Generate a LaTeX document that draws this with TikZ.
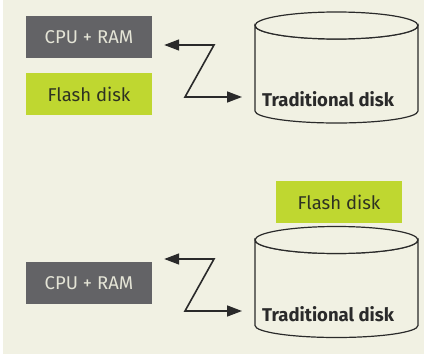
\documentclass[tikz,border=0pt]{standalone}
\usepackage{fontspec}
\setmainfont{Fira Sans}
\usetikzlibrary{positioning,arrows.meta}

\definecolor{cream}{HTML}{F1F1E3}
\definecolor{cpugray}{HTML}{636366}
\definecolor{cputext}{HTML}{E4E4D6}
\definecolor{flashgreen}{HTML}{BFD730}
\definecolor{flashtext}{HTML}{2E3222}
\definecolor{inkline}{HTML}{2A2A2A}

\begin{document}
\begin{tikzpicture}[x=1pt,y=-1pt,
cpubox/.style={rectangle, fill=cpugray, text=cputext, minimum width=126pt, minimum height=42pt, font=\fontsize{18.5}{20}\selectfont},
flashbox/.style={rectangle, fill=flashgreen, text=flashtext, minimum width=126pt, minimum height=42pt, font=\fontsize{18.5}{20}\selectfont},
diskline/.style={draw=inkline, line width=1.2pt, fill=cream},
disklabel/.style={text=inkline, inner sep=0pt, font=\bfseries\fontsize{18.5}{22}\selectfont},
zig/.style={{Triangle[length=15pt,width=11pt]}-{Triangle[length=15pt,width=11pt]}, draw=inkline, line width=1.6pt},
]
\fill[white] (0,0) rectangle (424,356);
\fill[cream] (3,0) rectangle (424,354);

%Disks
\coordinate (diskA) at (336.5,25.5);
\coordinate (diskB) at (336.5,240);
\draw[diskline] ([xshift=-81.5pt]diskA) -- ++(0,85.5) arc[start angle=180, end angle=0, x radius=81.5, y radius=12] -- ++(0,-85.5) arc[start angle=0, end angle=180, x radius=81.5, y radius=13.5] -- cycle;
\draw[diskline] (diskA) ellipse[x radius=81.5, y radius=13.5];
\draw[diskline] ([xshift=-81.5pt]diskB) -- ++(0,85.5) arc[start angle=180, end angle=0, x radius=81.5, y radius=12] -- ++(0,-85.5) arc[start angle=0, end angle=180, x radius=81.5, y radius=13.5] -- cycle;
\draw[diskline] (diskB) ellipse[x radius=81.5, y radius=13.5];
\coordinate (sideA) at ([xshift=-81.5pt]diskA);
\coordinate (sideB) at ([xshift=-81.5pt]diskB);
\coordinate (lidB)  at ([xshift=2.5pt,yshift=13.5pt]diskB);

%Nodes
\node[cpubox]   (cpuA)                        at (89,37)    {CPU + RAM};
\node[flashbox] (flashA)   [below=15pt of cpuA]             {Flash disk};
\node[disklabel, anchor=west] (tradA) at ([xshift=7pt,yshift=-73.5pt]sideA) {Traditional disk};

\node[cpubox]   (cpuB)                        at (89,283)   {CPU + RAM};
\node[flashbox] (flashB)   [above=3pt of lidB]              {Flash disk};
\node[disklabel, anchor=west] (tradB) at ([xshift=7pt,yshift=-74pt]sideB) {Traditional disk};

%Lines
\coordinate (tipA) at ([xshift=12pt]cpuA.east);
\coordinate (endA) at ([xshift=-13pt]sideA);
\coordinate (kneeA) at (214,45);
\coordinate (footA) at (185,97);
\draw[zig] (tipA |- kneeA) -- (kneeA) -- (footA) -- (endA |- footA);

\coordinate (tipB) at ([xshift=12pt]cpuB.east);
\coordinate (endB) at ([xshift=-13pt]sideB);
\coordinate (kneeB) at (214,259);
\coordinate (footB) at (185,311);
\draw[zig] (tipB |- kneeB) -- (kneeB) -- (footB) -- (endB |- footB);
\end{tikzpicture}
\end{document}
